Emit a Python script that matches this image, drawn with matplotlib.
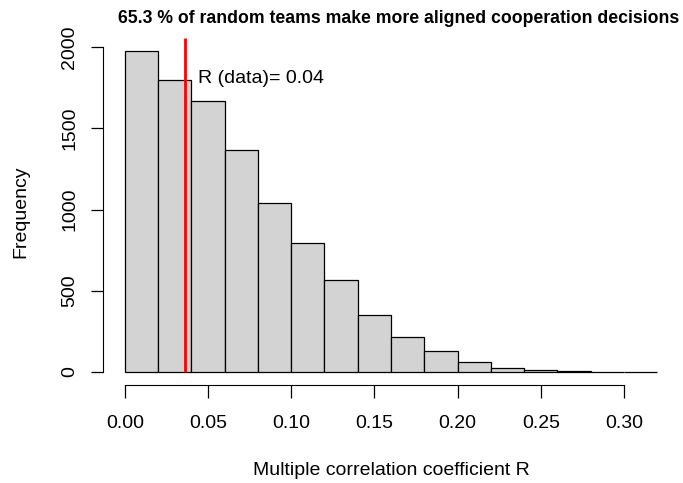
import numpy as np
import matplotlib
matplotlib.use("Agg")
import matplotlib.pyplot as plt

plt.rcParams['font.family'] = ['Liberation Sans', 'DejaVu Sans']

# histogram of R over random teams, bins of width 0.02
bin_edges = np.round(np.arange(0, 0.34, 0.02), 2)
counts = [1977, 1797, 1666, 1370, 1040, 792, 566, 351, 218, 127, 64, 27, 15, 6, 2, 1]
r_data = 0.036
pct_more = 65.3

fig = plt.figure(figsize=(6.83, 4.83), dpi=100)
ax = fig.add_axes([0.1515, 0.2033, 0.842, 0.7177])

ax.bar(bin_edges[:-1], counts, width=0.02, align='edge',
       color='#d3d3d3', edgecolor='black', linewidth=0.9)
ax.vlines(r_data, 0, 2056, color='red', lw=2, zorder=3)
ax.text(r_data + 0.008, 1809, f"R (data)= {r_data:.2f}", fontsize=14,
        ha='left', va='center')

ax.set_xlim(-0.0128, 0.3328)
ax.set_ylim(-79, 2056)

for s in ['top', 'right']:
    ax.spines[s].set_visible(False)
ax.spines['left'].set_bounds(0, 2000)
ax.spines['bottom'].set_bounds(0, 0.30)

ax.set_xticks(np.arange(0, 0.31, 0.05))
ax.set_xticklabels([f"{v:.2f}" for v in np.arange(0, 0.31, 0.05)])
ax.set_yticks([0, 500, 1000, 1500, 2000])
ax.set_yticklabels(['0', '500', '1000', '1500', '2000'], rotation=90, va='center')
ax.tick_params(length=9, width=0.9, labelsize=14, pad=9)
ax.tick_params(axis='x', pad=13)

ax.set_xlabel("Multiple correlation coefficient R", fontsize=14, labelpad=21)
ax.set_ylabel("Frequency", fontsize=14, labelpad=23)
ax.set_title(f"{pct_more} % of random teams make more aligned cooperation decisions",
             fontsize=12.7, fontweight='bold', pad=11, x=0.514)

fig.savefig("out.png", dpi=100)
